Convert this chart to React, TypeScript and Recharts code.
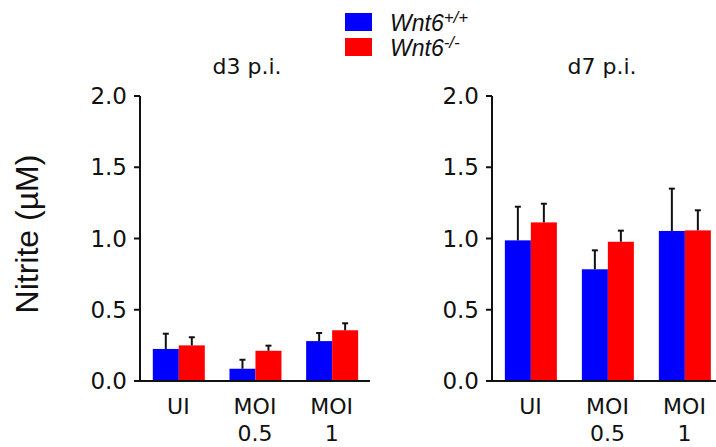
import { BarChart, Bar, XAxis, YAxis } from 'recharts';

/* ------------------------------------------------------------------ */
/*  Data                                                               */
/* ------------------------------------------------------------------ */
const CATEGORIES = ['UI', 'MOI 0.5', 'MOI 1'];
const Y_TICKS = [0, 0.5, 1, 1.5, 2];

// d3 p.i.
const D3_WT = [0.225, 0.086, 0.28];
const D3_WT_ERR = [0.107, 0.063, 0.057];
const D3_KO = [0.25, 0.212, 0.356];
const D3_KO_ERR = [0.057, 0.036, 0.049];

// d7 p.i.
const D7_WT = [0.987, 0.784, 1.053];
const D7_WT_ERR = [0.236, 0.133, 0.297];
const D7_KO = [1.113, 0.977, 1.057];
const D7_KO_ERR = [0.131, 0.078, 0.141];

const BLUE = '#0000ff';
const RED = '#ff0000';
const INK = '#111111';
const TICK_FONT = '"DejaVu Sans", Verdana, sans-serif';
const LABEL_FONT = '"Liberation Sans", Arial, sans-serif';

const buildRows = (wt: number[], wtErr: number[], ko: number[], koErr: number[]) =>
  CATEGORIES.map((name, i) => ({
    name,
    wt: wt[i],
    wtErr: wtErr[i],
    ko: ko[i],
    koErr: koErr[i],
  }));

const d3Rows = buildRows(D3_WT, D3_WT_ERR, D3_KO, D3_KO_ERR);
const d7Rows = buildRows(D7_WT, D7_WT_ERR, D7_KO, D7_KO_ERR);

/* bar with a one-sided (upper) error bar, GraphPad style */
function makeShape(valueKey: string, errKey: string) {
  return (props: any) => {
    const { x, y, width, height, fill, payload } = props;
    const value = payload[valueKey];
    const err = payload[errKey];
    const pxPerUnit = value ? height / value : 0;
    const cx = x + width / 2;
    const top = y - err * pxPerUnit;
    return (
      <g>
        <rect x={x} y={y} width={width} height={height} fill={fill} />
        <line x1={cx} x2={cx} y1={y} y2={top} stroke={INK} strokeWidth={2} />
        <line x1={cx - 3} x2={cx + 3} y1={top} y2={top} stroke={INK} strokeWidth={2} />
      </g>
    );
  };
}

function CategoryTick({ x, y, payload }: any) {
  const lines = String(payload.value).split(' ');
  return (
    <text
      x={x}
      y={y}
      textAnchor="middle"
      fill={INK}
      fontSize={22}
      fontFamily={TICK_FONT}
    >
      {lines.map((l, i) => (
        <tspan key={l} x={x} dy={i === 0 ? 25 : 27}>
          {l}
        </tspan>
      ))}
    </text>
  );
}

function Panel({ rows, left, marginLeft, marginRight }: any) {
  return (
    <div style={{ position: 'absolute', left, top: 0 }}>
      <BarChart
        width={400}
        height={447}
        data={rows}
        margin={{ top: 96, bottom: 0, left: marginLeft, right: marginRight }}
        barCategoryGap="16.7%"
        barGap={0}
      >
        <XAxis
          dataKey="name"
          height={66}
          tickLine={false}
          axisLine={{ stroke: INK, strokeWidth: 2 }}
          tick={<CategoryTick />}
          interval={0}
        />
        <YAxis
          width={60}
          domain={[0, 2]}
          ticks={Y_TICKS}
          tickFormatter={(v: number) => v.toFixed(1)}
          tickSize={6}
          tickMargin={7}
          axisLine={{ stroke: INK, strokeWidth: 2 }}
          tickLine={{ stroke: INK, strokeWidth: 2 }}
          tick={{ fill: INK, fontSize: 23, fontFamily: TICK_FONT }}
        />
        <Bar dataKey="wt" fill={BLUE} isAnimationActive={false} shape={makeShape('wt', 'wtErr')} />
        <Bar dataKey="ko" fill={RED} isAnimationActive={false} shape={makeShape('ko', 'koErr')} />
      </BarChart>
    </div>
  );
}

export default function App() {
  return (
    <div
      style={{
        position: 'absolute',
        left: 0,
        top: 0,
        width: 716,
        height: 447,
        overflow: 'hidden',
        background: '#fff',
      }}
    >
      <Panel rows={d3Rows} left={0} marginLeft={80} marginRight={30} />
      <Panel rows={d7Rows} left={400} marginLeft={32} marginRight={77} />

      {/* titles, legend and y label */}
      <svg
        width={716}
        height={447}
        style={{ position: 'absolute', left: 0, top: 0, pointerEvents: 'none' }}
      >
        <text x={247} y={74} textAnchor="middle" fontSize={22} fontFamily={TICK_FONT} fill={INK}>
          d3 p.i.
        </text>
        <text x={602} y={74} textAnchor="middle" fontSize={22} fontFamily={TICK_FONT} fill={INK}>
          d7 p.i.
        </text>

        <rect x={345} y={13} width={27} height={18} fill={BLUE} />
        <text x={390} y={31} fontSize={23} fontStyle="italic" fontFamily={LABEL_FONT} fill={INK}>
          Wnt6
          <tspan fontSize={17} dy={-8}>+/+</tspan>
        </text>
        <rect x={345} y={38} width={27} height={18} fill={RED} />
        <text x={390} y={56} fontSize={23} fontStyle="italic" fontFamily={LABEL_FONT} fill={INK}>
          Wnt6
          <tspan fontSize={17} dy={-8}>-/-</tspan>
        </text>

        <text
          x={38}
          y={234}
          transform="rotate(-90 38 234)"
          textAnchor="middle"
          fontSize={32}
          fontFamily={LABEL_FONT}
          fill={INK}
        >
          Nitrite (µM)
        </text>
      </svg>
    </div>
  );
}
